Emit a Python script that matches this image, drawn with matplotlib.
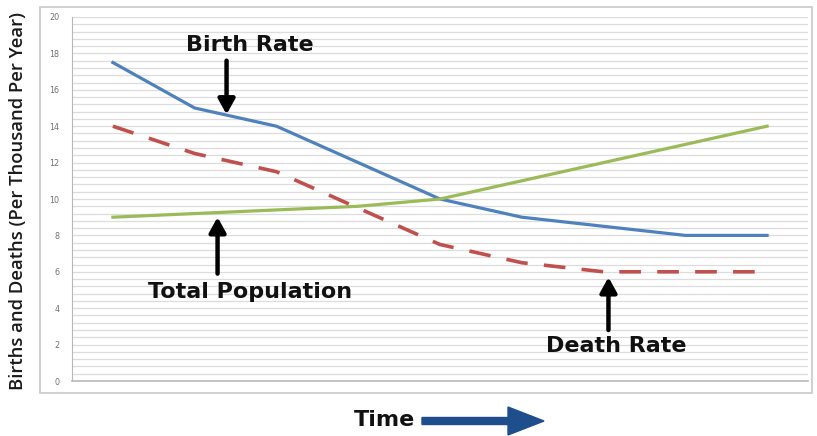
import numpy as np
import matplotlib
matplotlib.use('Agg')
import matplotlib.pyplot as plt
from matplotlib.patches import Rectangle, FancyArrow

# Data (9 evenly spaced time steps)
steps = list(range(9))
birth_rate = [17.5, 15.0, 14.0, 12.0, 10.0, 9.0, 8.5, 8.0, 8.0]
death_rate = [14.0, 12.5, 11.5, 9.5, 7.5, 6.5, 6.0, 6.0, 6.0]
total_pop = [9.0, 9.2, 9.4, 9.6, 10.0, 11.0, 12.0, 13.0, 14.0]
y_ticks = [0, 2, 4, 6, 8, 10, 12, 14, 16, 18, 20]

W, H = 817, 436
fig = plt.figure(figsize=(W / 100, H / 100), dpi=100)
fig.patch.set_facecolor('white')

# Outer chart border
fig.patches.append(Rectangle((40 / W, 1 - 393 / H), 772 / W, 386 / H, transform=fig.transFigure,
                             fill=False, edgecolor='#c8c8c8', linewidth=1.2))

ax = fig.add_axes([72 / W, 1 - 381 / H, 736 / W, 364 / H])
ax.set_xlim(-0.5, 8.5)
ax.set_ylim(0, 20)

# Light grid lines
for g in np.arange(0, 20.01, 0.4):
    ax.axhline(g, color='#dcdcdc', linewidth=0.9, zorder=0)

for s in ['top', 'right']:
    ax.spines[s].set_visible(False)
ax.spines['left'].set_color('#b8b8b8')
ax.spines['bottom'].set_color('#b8b8b8')
ax.spines['bottom'].set_linewidth(1.2)
ax.set_xticks([])
ax.set_yticks(y_ticks)
ax.set_yticklabels([str(t) for t in y_ticks], fontsize=5.8, color='#707070')
ax.tick_params(axis='y', length=0, pad=9)

ax.plot(steps, birth_rate, color='#4f81bd', linewidth=2.3, zorder=3)
ax.plot(steps, total_pop, color='#9bbb59', linewidth=2.3, zorder=3)
ax.plot(steps, death_rate, color='#c0504d', linewidth=2.6, linestyle=(0, (6, 4.5)), zorder=3)

fig.text(18 / W, 1 - 201 / H, 'Births and Deaths (Per Thousand Per Year)', rotation=90,
         ha='center', va='center', fontsize=13.3, family='Open Sans', weight='semibold', color='#1a1a1a')

lab = dict(fontsize=16, family='DejaVu Sans', weight='bold', color='#111111', ha='center', va='center')
arw = dict(arrowstyle='-|>,head_width=0.5,head_length=0.9', color='black', lw=3.2, shrinkA=0, shrinkB=0)

ax.text(1.67, 18.45, 'Birth Rate', **lab)
ax.annotate('', xy=(1.39, 14.65), xytext=(1.39, 17.6), arrowprops=arw)

ax.text(1.68, 4.9, 'Total Population', **lab)
ax.annotate('', xy=(1.28, 9.0), xytext=(1.28, 5.9), arrowprops=arw)

ax.text(6.15, 1.9, 'Death Rate', **lab)
ax.annotate('', xy=(6.06, 5.7), xytext=(6.06, 2.8), arrowprops=arw)

fig.text(385 / W, 1 - 420 / H, 'Time', **lab)
fig.patches.append(FancyArrow(422 / W, 1 - 421 / H, 122 / W, 0, width=7 / H,
                              head_width=28 / H, head_length=36 / W,
                              length_includes_head=True, color='#1f4e8c',
                              transform=fig.transFigure))

fig.savefig('out.png', dpi=100)
